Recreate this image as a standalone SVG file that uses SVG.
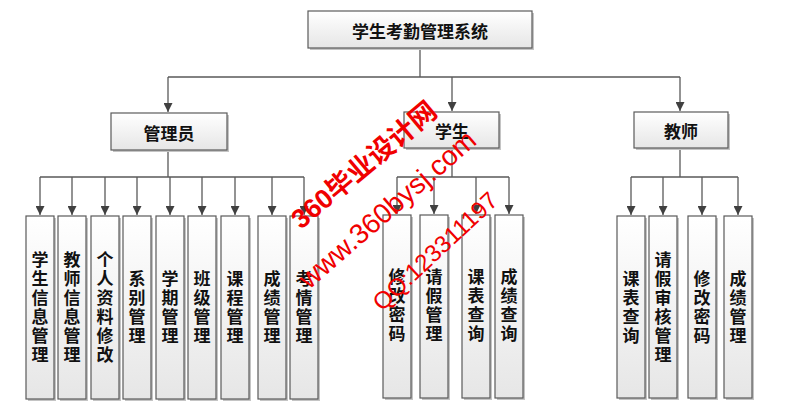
<svg xmlns="http://www.w3.org/2000/svg" width="805" height="410" viewBox="0 0 805 410">
<defs>
<linearGradient id="g" x1="0" y1="0" x2="0" y2="1">
<stop offset="0" stop-color="#ffffff"/>
<stop offset="1" stop-color="#e6e6e6"/>
</linearGradient>
<marker id="arr" viewBox="0 0 10 10" refX="10" refY="5" markerWidth="9" markerHeight="9" markerUnits="userSpaceOnUse" orient="auto">
<path d="M0,0 L10,5 L0,10 z" fill="#404040"/>
</marker>
</defs>
<style>
.sh{fill:#c4c4c4;}
.bx{fill:url(#g);stroke:#5a5a5a;stroke-width:1.2;}
.t{font-family:"Noto Sans CJK SC","Noto Sans CJK JP",sans-serif;font-size:17px;font-weight:bold;fill:#111;text-anchor:middle;dominant-baseline:central;}
.v{font-family:"Noto Sans CJK SC","Noto Sans CJK JP",sans-serif;font-size:17px;font-weight:bold;fill:#111;text-anchor:middle;writing-mode:vertical-rl;letter-spacing:2px;}
.c{fill:none;stroke:#595959;stroke-width:1.3;}
.a{marker-end:url(#arr);}
.wm{fill:#f00000;font-family:"Liberation Sans","Noto Sans CJK SC",sans-serif;}
</style>
<rect width="805" height="410" fill="#ffffff"/>
<g id="connectors">
<path class="c" d="M420,48 V77 M168,77 H680"/>
<path class="c a" d="M168,77 V112"/>
<path class="c a" d="M452,77 V111"/>
<path class="c a" d="M680,77 V111"/>
<path class="c" d="M168,150 V177 M40,177 H304"/>
<path class="c a" d="M40,177 V215"/>
<path class="c a" d="M72,177 V215"/>
<path class="c a" d="M105,177 V215"/>
<path class="c a" d="M137,177 V215"/>
<path class="c a" d="M170,177 V215"/>
<path class="c a" d="M202,177 V215"/>
<path class="c a" d="M235,177 V215"/>
<path class="c a" d="M272,177 V215"/>
<path class="c a" d="M304,177 V215"/>
<path class="c" d="M452,148 V177 M397,177 H509"/>
<path class="c a" d="M397,177 V214"/>
<path class="c a" d="M434,177 V214"/>
<path class="c a" d="M476,177 V214"/>
<path class="c a" d="M509,177 V214"/>
<path class="c" d="M680,148 V177 M631,177 H738"/>
<path class="c a" d="M631,177 V215"/>
<path class="c a" d="M663,177 V215"/>
<path class="c a" d="M702,177 V215"/>
<path class="c a" d="M738,177 V215"/>
</g>
<g id="root">
<rect class="sh" x="310" y="13" width="224" height="37"/>
<rect class="bx" x="308" y="11" width="224" height="37"/>
<text class="t" x="420" y="30">学生考勤管理系统</text>
</g>
<g id="admin">
<rect class="sh" x="113" y="115" width="116" height="37"/>
<rect class="bx" x="111" y="113" width="116" height="37"/>
<text class="t" x="169" y="132">管理员</text>
</g>
<g id="student">
<rect class="sh" x="406" y="114" width="95" height="36"/>
<rect class="bx" x="404" y="112" width="95" height="36"/>
<text class="t" x="452" y="130">学生</text>
</g>
<g id="teacher">
<rect class="sh" x="636" y="114" width="94" height="36"/>
<rect class="bx" x="634" y="112" width="94" height="36"/>
<text class="t" x="681" y="130">教师</text>
</g>
<g id="a1"><rect class="sh" x="28" y="218" width="28" height="183"/><rect class="bx" x="26" y="216" width="28" height="183"/><text class="v" x="40" y="308">学生信息管理</text></g>
<g id="a2"><rect class="sh" x="60" y="218" width="28" height="183"/><rect class="bx" x="58" y="216" width="28" height="183"/><text class="v" x="72" y="308">教师信息管理</text></g>
<g id="a3"><rect class="sh" x="93" y="218" width="28" height="183"/><rect class="bx" x="91" y="216" width="28" height="183"/><text class="v" x="105" y="308">个人资料修改</text></g>
<g id="a4"><rect class="sh" x="125" y="218" width="28" height="183"/><rect class="bx" x="123" y="216" width="28" height="183"/><text class="v" x="137" y="308">系别管理</text></g>
<g id="a5"><rect class="sh" x="158" y="218" width="28" height="183"/><rect class="bx" x="156" y="216" width="28" height="183"/><text class="v" x="170" y="308">学期管理</text></g>
<g id="a6"><rect class="sh" x="190" y="218" width="28" height="183"/><rect class="bx" x="188" y="216" width="28" height="183"/><text class="v" x="202" y="308">班级管理</text></g>
<g id="a7"><rect class="sh" x="223" y="218" width="28" height="183"/><rect class="bx" x="221" y="216" width="28" height="183"/><text class="v" x="235" y="308">课程管理</text></g>
<g id="a8"><rect class="sh" x="260" y="218" width="28" height="183"/><rect class="bx" x="258" y="216" width="28" height="183"/><text class="v" x="272" y="308">成绩管理</text></g>
<g id="a9"><rect class="sh" x="292" y="218" width="28" height="183"/><rect class="bx" x="290" y="216" width="28" height="183"/><text class="v" x="304" y="308">考情管理</text></g>
<g id="s1"><rect class="sh" x="385" y="217" width="28" height="183"/><rect class="bx" x="383" y="215" width="28" height="183"/><text class="v" x="397" y="306">修改密码</text></g>
<g id="s2"><rect class="sh" x="422" y="217" width="28" height="183"/><rect class="bx" x="420" y="215" width="28" height="183"/><text class="v" x="434" y="306">请假管理</text></g>
<g id="s3"><rect class="sh" x="464" y="217" width="28" height="183"/><rect class="bx" x="462" y="215" width="28" height="183"/><text class="v" x="476" y="306">课表查询</text></g>
<g id="s4"><rect class="sh" x="497" y="217" width="28" height="183"/><rect class="bx" x="495" y="215" width="28" height="183"/><text class="v" x="509" y="306">成绩查询</text></g>
<g id="t1"><rect class="sh" x="619" y="218" width="28" height="182"/><rect class="bx" x="617" y="216" width="28" height="182"/><text class="v" x="631" y="308">课表查询</text></g>
<g id="t2"><rect class="sh" x="651" y="218" width="28" height="182"/><rect class="bx" x="649" y="216" width="28" height="182"/><text class="v" x="663" y="308">请假审核管理</text></g>
<g id="t3"><rect class="sh" x="690" y="218" width="28" height="182"/><rect class="bx" x="688" y="216" width="28" height="182"/><text class="v" x="702" y="308">修改密码</text></g>
<g id="t4"><rect class="sh" x="726" y="218" width="28" height="182"/><rect class="bx" x="724" y="216" width="28" height="182"/><text class="v" x="738" y="308">成绩管理</text></g>
<g id="watermark">
<text class="wm" font-size="27" font-weight="bold" transform="translate(301,230) rotate(-40)">360毕业设计网</text>
<text class="wm" font-size="28" transform="translate(309,290) rotate(-41)">www.360bysj.com</text>
<text class="wm" font-size="24" transform="translate(382,312) rotate(-43)">QQ:123311197</text>
</g>
</svg>
